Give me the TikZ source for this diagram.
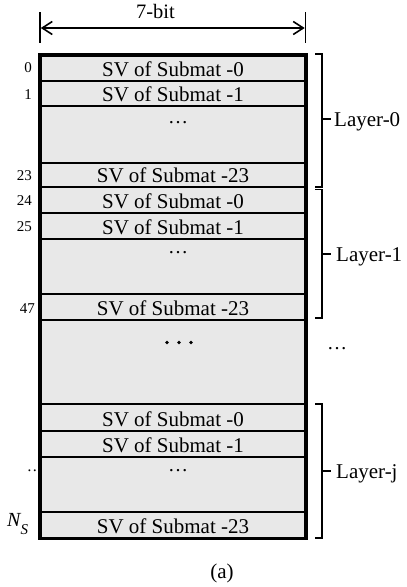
\documentclass[tikz,border=0pt]{standalone}
\usepackage{fontspec}
\setmainfont{Liberation Serif}
\usetikzlibrary{arrows.meta}
\definecolor{cellgray}{RGB}{232,232,232}
\begin{document}
\begin{tikzpicture}[x=1pt,y=-1pt,
  cell/.style={draw=black, line width=2.2pt, fill=cellgray, minimum width=266pt,
               inner sep=0pt, outer sep=0pt, anchor=north west},
  celltext/.style={font=\fontsize{21}{24}\selectfont, anchor=base, inner sep=0pt, yshift=4.5pt},
  rowdots/.style={font=\fontsize{20}{24}\selectfont, anchor=base, inner sep=0pt},
  idx/.style={font=\fontsize{15}{18}\selectfont, anchor=base east, inner sep=0pt},
  bracket/.style={line width=1.4pt},
  layer/.style={font=\fontsize{21}{24}\selectfont, anchor=base west, inner sep=0pt},
  bigdot/.style={circle, fill=black, inner sep=0pt, minimum size=3.6pt},
]
\path[use as bounding box] (0,0) rectangle (407,587);

% width dimension
\coordinate (wl0) at (40,12);
\coordinate (wl1) at (40,43);
\coordinate (wr0) at (305.5,12);
\coordinate (wr1) at (305.5,43);
\draw[line width=1.5pt] (wl0) -- (wl1);
\draw[line width=1.5pt] (wr0) -- (wr1);
\coordinate (al) at (40.8,28);
\coordinate (ar) at (304.7,28);
\draw[line width=1.6pt, {Straight Barb[length=10pt,width=13pt]}-{Straight Barb[length=10pt,width=13pt]}] (al) -- (ar);
\node[font=\fontsize{20.5}{24}\selectfont, anchor=base, inner sep=0pt] (wbit) at (155.5,18.5) {7-bit};

% memory rows
\node[cell, minimum height=25.7pt] (r0)  at (40,55) {};
\node[cell, minimum height=25.3pt] (r1)  at (40,80.7) {};
\node[cell, minimum height=57.3pt] (d0)  at (40,106) {};
\node[cell, minimum height=23.7pt] (r23) at (40,163.3) {};
\node[cell, minimum height=25.7pt] (r24) at (40,187) {};
\node[cell, minimum height=26pt]   (r25) at (40,212.7) {};
\node[cell, minimum height=55.3pt] (d1)  at (40,238.7) {};
\node[cell, minimum height=26pt]   (r47) at (40,294) {};
\node[cell, minimum height=84.3pt] (big) at (40,320) {};
\node[cell, minimum height=26.4pt] (j0)  at (40,404.3) {};
\node[cell, minimum height=26.6pt] (j1)  at (40,430.7) {};
\node[cell, minimum height=54.4pt] (dj)  at (40,457.3) {};
\node[cell, minimum height=26.6pt] (jN)  at (40,511.7) {};
\draw[line width=3.2pt] (r0.north west) rectangle (jN.south east);

% row contents
\node[celltext] (t0)  at (r0.south)  {SV of Submat -0};
\node[celltext] (t1)  at (r1.south)  {SV of Submat -1};
\node[celltext] (t23) at (r23.south) {SV of Submat -23};
\node[celltext] (t24) at (r24.south) {SV of Submat -0};
\node[celltext] (t25) at (r25.south) {SV of Submat -1};
\node[celltext] (t47) at (r47.south) {SV of Submat -23};
\node[celltext] (tj0) at (j0.south)  {SV of Submat -0};
\node[celltext] (tj1) at (j1.south)  {SV of Submat -1};
\node[celltext] (tjN) at (jN.south)  {SV of Submat -23};
\node[rowdots] (e0) at (178,123.5) {\dots};
\node[rowdots] (e1) at (178,253.5) {\dots};
\node[rowdots] (ej) at (178,471.5) {\dots};
\node[bigdot] (b1) at (167,342.5) {};
\node[bigdot] (b2) at (179,342.5) {};
\node[bigdot] (b3) at (191,342.5) {};

% addresses
\node[idx] (a0)  at (32,72)    {0};
\node[idx] (a1)  at (32,99)    {1};
\node[idx] (a23) at (32,180.5) {23};
\node[idx] (a24) at (32,205.5) {24};
\node[idx] (a25) at (32,231.5) {25};
\node[idx] (a47) at (35,313.5) {47};
\node[font=\fontsize{16}{18}\selectfont, anchor=base, inner sep=0pt] (aj) at (35,471.5) {\dots};
\node[anchor=base west, inner sep=0pt] (aN) at (7,526.5)
  {\fontsize{20}{22}\selectfont\itshape N\raisebox{-7.5pt}{\fontsize{15}{16}\selectfont S}};

% layer brackets
\draw[bracket] (315,54) -- (322,54) -- (322,187) -- (315,187);
\draw[bracket] (322,119) -- (330.5,119);
\node[layer] (L0) at (334,126.5) {Layer-0};
\draw[bracket] (315,189.5) -- (322,189.5) -- (322,318) -- (315,318);
\draw[bracket] (322,254) -- (330.5,254);
\node[layer] (L1) at (336,261.5) {Layer-1};
\draw[bracket] (315,404) -- (322,404) -- (322,538) -- (315,538);
\draw[bracket] (322,471) -- (330.5,471);
\node[layer] (Lj) at (336,478.5) {Layer-j};
\node[rowdots] (er) at (337,349.5) {\dots};

% caption
\node[font=\fontsize{21}{24}\selectfont, anchor=base, inner sep=0pt] (cap) at (222,578) {(a)};
\end{tikzpicture}
\end{document}
